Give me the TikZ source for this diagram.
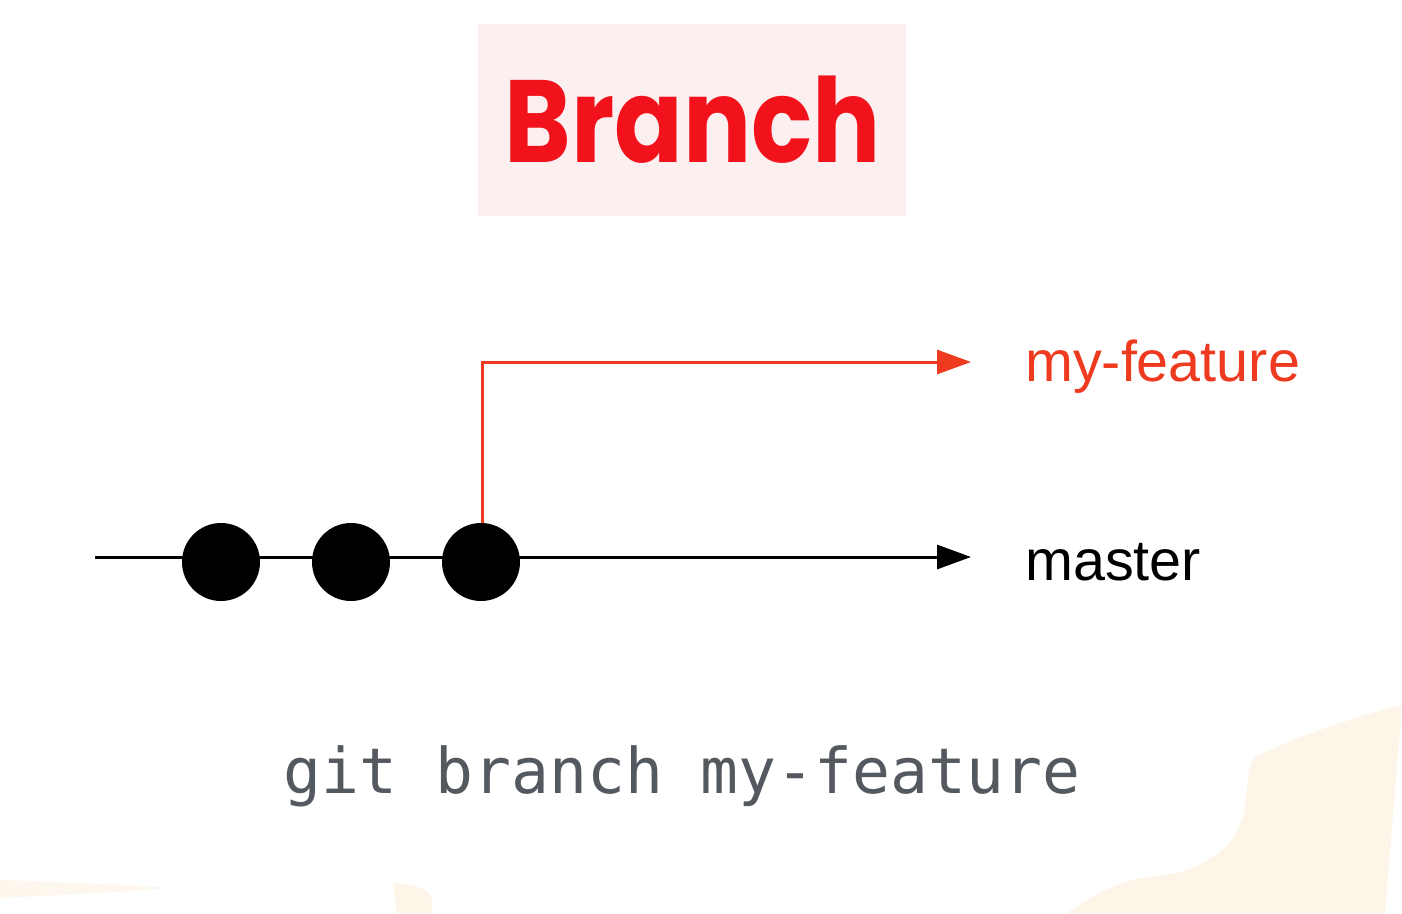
\documentclass[tikz,border=0pt]{standalone}
\usepackage{graphicx}
\usepackage{fontspec}
\setmainfont{Liberation Sans}
\newfontfamily\titlefont{Poppins}
\newfontfamily\codefont{DejaVu Sans Mono}
\usetikzlibrary{arrows.meta}
\definecolor{boxpink}{HTML}{FBEFEF}
\definecolor{titlered}{HTML}{F2121C}
\definecolor{branchred}{HTML}{EE3A1E}
\definecolor{codegray}{HTML}{545960}
\definecolor{beige}{HTML}{FEF5E9}
\tikzset{
  commit/.style={circle,fill=black,minimum size=78pt,inner sep=0pt},
  mainline/.style={line width=3pt,-{Triangle[length=34pt,width=24pt]}},
  featline/.style={line width=3pt,draw=branchred,-{Triangle[length=34pt,width=24pt]}},
  lbl/.style={anchor=base west,inner sep=0pt,font=\fontsize{57.5}{60}\selectfont},
}
\begin{document}
\begin{tikzpicture}[x=1pt,y=-1pt]
\useasboundingbox (0,0) rectangle (1402,913);
\fill[white] (0,0) rectangle (1402,913);
% background blobs
\fill[beige] (1067,913) .. controls (1100,892) and (1120,880) .. (1150,877)
  .. controls (1200,873) and (1230,850) .. (1240,825)
  .. controls (1250,800) and (1244,770) .. (1255,757)
  .. controls (1300,735) and (1360,715) .. (1402,705)
  -- (1385,913) -- cycle;
\fill[beige,opacity=0.8] (0,880) .. controls (60,882) and (130,885) .. (168,888)
  .. controls (120,892) and (60,895) .. (0,898) -- cycle;
\fill[beige] (393,883) .. controls (420,885) and (430,890) .. (432,900) -- (432,913) -- (397,913) -- cycle;
% title
\node[fill=boxpink,minimum width=428pt,minimum height=192pt,inner sep=0pt] (titlebox) at (692,120) {};
\node[anchor=base,inner sep=0pt,text=titlered,font=\titlefont\bfseries\fontsize{117}{120}\selectfont] (title) at (693,162) {\scalebox{0.865}[1]{Branch}};
% master
\coordinate (mstart) at (95,557);
\coordinate (mend) at (971,557);
\draw[mainline] (mstart) -- (mend);
\node[commit] (c1) at (221,562) {};
\node[commit] (c2) at (351,562) {};
\node[commit] (c3) at (481,562) {};
% feature
\coordinate (fcorner) at (482,362);
\coordinate (fend) at (971,362);
\draw[featline] (c3.north -| fcorner) -- (fcorner) -- (fend);
% labels
\node[lbl,text=branchred] (feat) at (1025,381) {my-feature};
\node[lbl,text=black] (master) at (1025,580) {master};
\node[anchor=base,inner sep=0pt,text=codegray,font=\codefont\fontsize{63}{65}\selectfont] (cmd) at (682,793) {git branch my-feature};
\end{tikzpicture}
\end{document}
